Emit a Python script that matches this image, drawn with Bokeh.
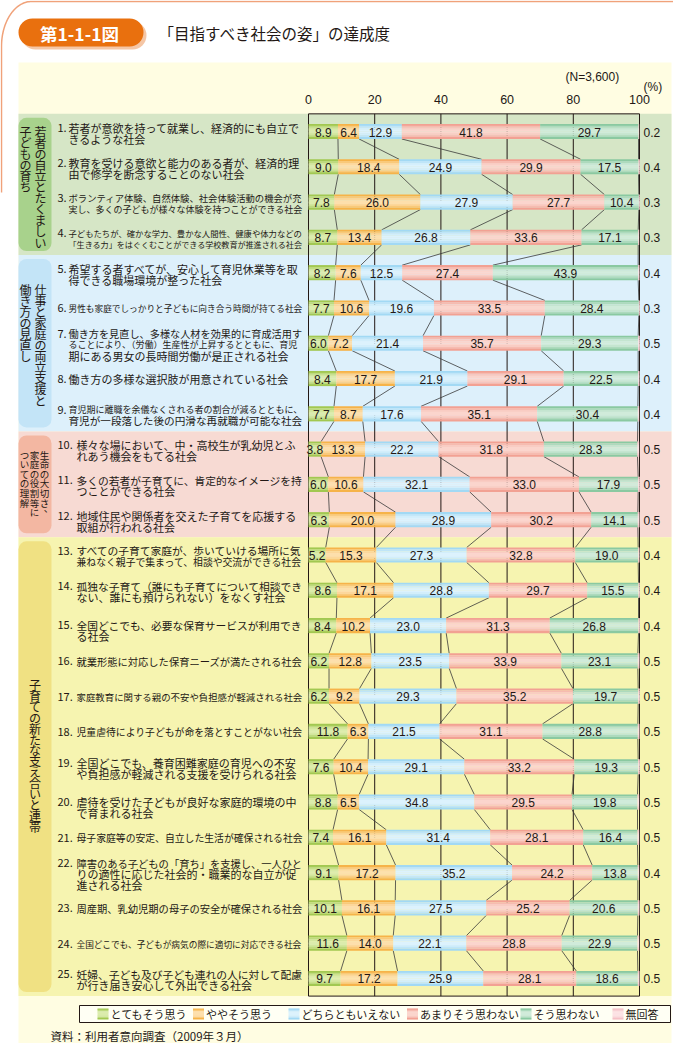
import numpy as np
from bokeh.plotting import figure
from bokeh.models import Range1d, ColumnDataSource
from bokeh.core.properties import value, field
from bokeh.embed import file_html
from bokeh.resources import INLINE

# ---------------- data ----------------
categories = ["とてもそう思う", "ややそう思う", "どちらともいえない", "あまりそう思わない", "そう思わない", "無回答"]
ticks = [0, 20, 40, 60, 80, 100]

very_much = [8.9, 9.0, 7.8, 8.7, 8.2, 7.7, 6.0, 8.4, 7.7, 3.8, 6.0, 6.3, 5.2, 8.6, 8.4, 6.2, 6.2, 11.8, 7.6, 8.8, 7.4, 9.1, 10.1, 11.6, 9.7]
somewhat = [6.4, 18.4, 26.0, 13.4, 7.6, 10.6, 7.2, 17.7, 8.7, 13.3, 10.6, 20.0, 15.3, 17.1, 10.2, 12.8, 9.2, 6.3, 10.4, 6.5, 16.1, 17.2, 16.1, 14.0, 17.2]
neither = [12.9, 24.9, 27.9, 26.8, 12.5, 19.6, 21.4, 21.9, 17.6, 22.2, 32.1, 28.9, 27.3, 28.8, 23.0, 23.5, 29.3, 21.5, 29.1, 34.8, 31.4, 35.2, 27.5, 22.1, 25.9]
not_much = [41.8, 29.9, 27.7, 33.6, 27.4, 33.5, 35.7, 29.1, 35.1, 31.8, 33.0, 30.2, 32.8, 29.7, 31.3, 33.9, 35.2, 31.1, 33.2, 29.5, 28.1, 24.2, 25.2, 28.8, 28.1]
not_at_all = [29.7, 17.5, 10.4, 17.1, 43.9, 28.4, 29.3, 22.5, 30.4, 28.3, 17.9, 14.1, 19.0, 15.5, 26.8, 23.1, 19.7, 28.8, 19.3, 19.8, 16.4, 13.8, 20.6, 22.9, 18.6]
no_answer = [0.2, 0.4, 0.3, 0.3, 0.4, 0.3, 0.5, 0.4, 0.4, 0.5, 0.5, 0.5, 0.4, 0.4, 0.4, 0.5, 0.5, 0.5, 0.5, 0.5, 0.5, 0.4, 0.5, 0.5, 0.5]

item_lines = [
    ["若者が意欲を持って就業し、経済的にも自立で", "きるような社会"],
    ["教育を受ける意欲と能力のある者が、経済的理", "由で修学を断念することのない社会"],
    ["ボランティア体験、自然体験、社会体験活動の機会が充", "実し、多くの子どもが様々な体験を持つことができる社会"],
    ["子どもたちが、確かな学力、豊かな人間性、健康や体力などの", "「生きる力」をはぐくむことができる学校教育が推進される社会"],
    ["希望する者すべてが、安心して育児休業等を取", "得できる職場環境が整った社会"],
    ["男性も家庭でしっかりと子どもに向き合う時間が持てる社会"],
    ["働き方を見直し、多様な人材を効果的に育成活用す", "ることにより、（労働）生産性が上昇するとともに、育児", "期にある男女の長時間労働が是正される社会"],
    ["働き方の多様な選択肢が用意されている社会"],
    ["育児期に離職を余儀なくされる者の割合が減るとともに、", "育児が一段落した後の円滑な再就職が可能な社会"],
    ["様々な場において、中・高校生が乳幼児とふ", "れあう機会をもてる社会"],
    ["多くの若者が子育てに、肯定的なイメージを持", "つことができる社会"],
    ["地域住民や関係者を交えた子育てを応援する", "取組が行われる社会"],
    ["すべての子育て家庭が、歩いていける場所に気", "兼ねなく親子で集まって、相談や交流ができる社会"],
    ["孤独な子育て（誰にも子育てについて相談でき", "ない、誰にも預けられない）をなくす社会"],
    ["全国どこでも、必要な保育サービスが利用でき", "る社会"],
    ["就業形態に対応した保育ニーズが満たされる社会"],
    ["家庭教育に関する親の不安や負担感が軽減される社会"],
    ["児童虐待により子どもが命を落とすことがない社会"],
    ["全国どこでも、養育困難家庭の育児への不安", "や負担感が軽減される支援を受けられる社会"],
    ["虐待を受けた子どもが良好な家庭的環境の中", "で育まれる社会"],
    ["母子家庭等の安定、自立した生活が確保される社会"],
    ["障害のある子どもの「育ち」を支援し、一人ひと", "りの適性に応じた社会的・職業的な自立が促", "進される社会"],
    ["周産期、乳幼児期の母子の安全が確保される社会"],
    ["全国どこでも、子どもが病気の際に適切に対応できる社会"],
    ["妊婦、子ども及び子ども連れの人に対して配慮", "が行き届き安心して外出できる社会"],
]

group_titles = [
    ["若者の自立とたくましい", "子どもの育ち"],
    ["仕事と家庭の両立支援と", "働き方の見直し"],
    ["生命の大切さ、", "家庭の役割等に", "ついての理解"],
    ["子育ての新たな支え合いと連帯"],
]
group_rows = [(1, 4), (5, 9), (10, 12), (13, 25)]

title_badge = "第1-1-1図"
title_text = "「目指すべき社会の姿」の達成度"
n_note = "(N=3,600)"
unit_note = "(%)"
source_note = "資料：利用者意向調査（2009年３月）"

# ---------------- layout / style ----------------
FIG_W, FIG_H = 673, 1043
OFF = 0
X0_REF, X100_REF = 308.0, 639.0
SX = (X100_REF - X0_REF) / 100.0
ROW1_REF = 131.0
SY = 35.29


def X(px):
    return (px - X0_REF) / SX


def Y(py):
    return 1 + (py - ROW1_REF) / SY


def DX(d):
    return d / SX


def DY(d):
    return d / SY


TXT = "#231815"
JP = value("Noto Sans CJK JP")
NUMF = value("Liberation Sans")

seg_colors = [
    ("#8DBA2E", "#DCEDAE"),
    ("#F3A224", "#FDE0AE"),
    ("#8CCFF1", "#DDF3FD"),
    ("#EE8D7D", "#FBD6CE"),
    ("#6FBC8C", "#D2ECDB"),
    ("#F2B4BA", "#FCE3E5"),
]
band_colors = ["#D6E6C6", "#DDF0FB", "#F7DAD3", "#F6F4B0"]
box_colors = ["#A8D28C", "#C3E4F7", "#F3B7A2", "#F0E183"]


def hex2rgb(h):
    h = h.lstrip("#")
    return np.array([int(h[i:i + 2], 16) for i in (0, 2, 4)], dtype=float)


def mix(c1, c2, w):
    a, b = hex2rgb(c1), hex2rgb(c2)
    c = a * (1 - w) + b * w
    return "#%02x%02x%02x" % tuple(int(round(v)) for v in c)


def profile(n=8):
    out = []
    for j in range(n):
        t = (j + 0.5) / n
        w = np.sin(np.pi * t) ** 0.8
        out.append((t, w))
    return out


p = figure(width=FIG_W, height=FIG_H,
           x_range=Range1d(X(OFF), X(OFF + FIG_W)),
           y_range=Range1d(Y(OFF + FIG_H), Y(OFF)),
           output_backend="svg", toolbar_location=None,
           x_axis_location=None, y_axis_location=None,
           min_border=0)
p.grid.visible = False
p.outline_line_color = None
p.background_fill_color = "white"
p.border_fill_color = "white"

# outer orange frame line (top-left corner)
th = np.linspace(np.pi / 2, np.pi, 40)
fx = [700] + list(31 + 30 * np.cos(th)) + [1.0]
fy = [1.0] + list(46 - 45 * np.sin(th)) + [192]
p.line(X(np.array(fx)), Y(np.array(fy)), line_color="#F0A27A", line_width=1.5)

# cream panel
p.quad(left=X(18), right=X(671), top=Y(62), bottom=Y(1060), fill_color="#FFFDE2", line_color=None)

# group bands and label boxes
for gi, (a, b) in enumerate(group_rows):
    p.quad(left=X(18), right=X(671), top=a - 0.5, bottom=b + 0.5,
           fill_color=band_colors[gi], line_color=None)
    p.quad(left=X(18), right=X(51), top=a - 0.5 + DY(4), bottom=b + 0.5 - DY(4),
           fill_color=box_colors[gi], line_color=None, border_radius=8)

# vertical group titles
g_col_x = [[40, 25], [40, 25], [44, 34, 24], [34.5]]
g_start = [130.5, 288.5, 454, 684]
g_step = [11.1, 11.1, 9.6, 10.9]
g_font = [12, 12, 9.5, 12]
for gi, cols in enumerate(group_titles):
    xs, ys, ts = [], [], []
    for ci, col in enumerate(cols):
        for k, ch in enumerate(col):
            dxp, dyp = 0, 0
            if ch in "、。":
                dxp, dyp = 4, -4
            xs.append(X(g_col_x[gi][ci] + dxp))
            ys.append(Y(g_start[gi] + k * g_step[gi] + dyp))
            ts.append(ch)
    p.text(x=xs, y=ys, text=ts, text_align="center", text_baseline="middle",
           text_font=JP, text_font_size=f"{g_font[gi]}px", text_color=TXT)

# frame and grid
rows = np.arange(1, len(very_much) + 1)
p.segment(x0=ticks, x1=ticks, y0=[0.5] * len(ticks), y1=[len(rows) + 0.5] * len(ticks),
          line_color=TXT, line_width=1)
p.segment(x0=[0, 0], x1=[100, 100], y0=[0.5, len(rows) + 0.5], y1=[0.5, len(rows) + 0.5],
          line_color=TXT, line_width=1)

# stacked values
series = [very_much, somewhat, neither, not_much, not_at_all, no_answer]
vals = np.array(series, dtype=float)
cum = np.vstack([np.zeros(len(rows)), np.cumsum(vals, axis=0)])
HH = DY(7.5)

# connector lines between bars
cx0, cx1, cy0, cy1 = [], [], [], []
for k in range(1, 6):
    for i in range(len(rows) - 1):
        cx0.append(cum[k][i]); cy0.append(rows[i] + HH)
        cx1.append(cum[k][i + 1]); cy1.append(rows[i + 1] - HH)
p.segment(x0=cx0, y0=cy0, x1=cx1, y1=cy1, line_color="#3a3a3a", line_width=0.8)

# bars with vertical gradient
NSTR = 8
prof = profile(NSTR)
for k in range(6):
    dark, light = seg_colors[k]
    for t, w in prof:
        yc = rows - HH + t * 2 * HH
        p.hbar(y=yc, left=cum[k], right=cum[k + 1], height=2 * HH / NSTR * 1.08,
               fill_color=mix(dark, light, w), line_color=None)

# value labels
for k in range(5):
    mids = (cum[k] + cum[k + 1]) / 2
    p.text(x=mids, y=rows + DY(0.5), text=["%.1f" % v for v in series[k]],
           text_align="center", text_baseline="middle", text_font=NUMF,
           text_font_size="12px", text_color=TXT)
p.text(x=[X(643)] * len(rows), y=rows + DY(0.5), text=["%.1f" % v for v in no_answer],
       text_align="left", text_baseline="middle", text_font=NUMF,
       text_font_size="12px", text_color=TXT)

# item labels
def em_width(s):
    return sum(0.55 if ord(c) < 0x2000 else 1.0 for c in s)


item_offsets = {15: 5.0, 20: 5.0}
lx, ly, lt, ls = [], [], [], []
nx, ny, nt = [], [], []
for i, lines in enumerate(item_lines):
    n = i + 1
    indent = 68 if n < 10 else 76
    yc = ROW1_REF + (n - 1) * SY + item_offsets.get(n, 1.5 if len(lines) > 1 else 0.5)
    nl = len(lines)
    for j, line in enumerate(lines):
        yy = yc + (j - (nl - 1) / 2) * 11
        fs = min(11.0, (302 - indent) / em_width(line))
        lx.append(X(indent)); ly.append(Y(yy)); lt.append(line); ls.append("%.2fpx" % fs)
        if j == 0:
            nx.append(X(57)); ny.append(Y(yy)); nt.append(f"{n}.")
src = ColumnDataSource(dict(x=lx, y=ly, text=lt, size=ls))
p.text(x="x", y="y", text="text", source=src, text_align="left", text_baseline="middle",
       text_font=JP, text_font_size=field("size"), text_color=TXT)
p.text(x=nx, y=ny, text=nt, text_align="left", text_baseline="middle",
       text_font=JP, text_font_size="11px", text_color=TXT)

# axis tick labels and notes
p.text(x=ticks, y=[Y(99)] * len(ticks), text=[str(t) for t in ticks], text_align="center",
       text_baseline="middle", text_font=NUMF, text_font_size="12.5px", text_color=TXT)
p.text(x=[X(565)], y=[Y(76)], text=[n_note], text_align="left", text_baseline="middle",
       text_font=NUMF, text_font_size="12px", text_color=TXT)
p.text(x=[X(643)], y=[Y(86)], text=[unit_note], text_align="left", text_baseline="middle",
       text_font=NUMF, text_font_size="12px", text_color=TXT)

# title badge and title
p.quad(left=X(21), right=X(146), top=Y(21), bottom=Y(49), fill_color="#F5C6A5",
       line_color=None, border_radius=14)
p.quad(left=X(18), right=X(143), top=Y(18), bottom=Y(46), fill_color="#E9700E",
       line_color=None, border_radius=14)
p.text(x=[X(79)], y=[Y(32.5)], text=[title_badge], text_align="center", text_baseline="middle",
       text_font=JP, text_font_size="17.5px", text_font_style="bold", text_color="white")
p.text(x=[X(158)], y=[Y(32)], text=[title_text], text_align="left", text_baseline="middle",
       text_font=JP, text_font_size="15.5px", text_color=TXT)

# legend
p.quad(left=X(79), right=X(670), top=Y(1005), bottom=Y(1022), fill_color="#FFFFF4",
       line_color=TXT, line_width=1)
leg_left = [97, 192.5, 288, 406.5, 520, 612]
for k, name in enumerate(categories):
    dark, light = seg_colors[k]
    for t, w in prof:
        yy = 1008 + t * 11
        p.quad(left=X(leg_left[k]), right=X(leg_left[k] + 11), top=Y(yy - 11 / NSTR / 2 - 0.1),
               bottom=Y(yy + 11 / NSTR / 2 + 0.1), fill_color=mix(dark, light, w), line_color=None)
p.text(x=[X(l + 13) for l in leg_left], y=[Y(1013.5)] * len(categories), text=categories,
       text_align="left", text_baseline="middle", text_font=JP, text_font_size="11px",
       text_color=TXT)

# source
p.text(x=[X(50)], y=[Y(1035)], text=[source_note], text_align="left", text_baseline="middle",
       text_font=JP, text_font_size="11.5px", text_color=TXT)

open("out.html", "w").write(file_html(p, INLINE))
